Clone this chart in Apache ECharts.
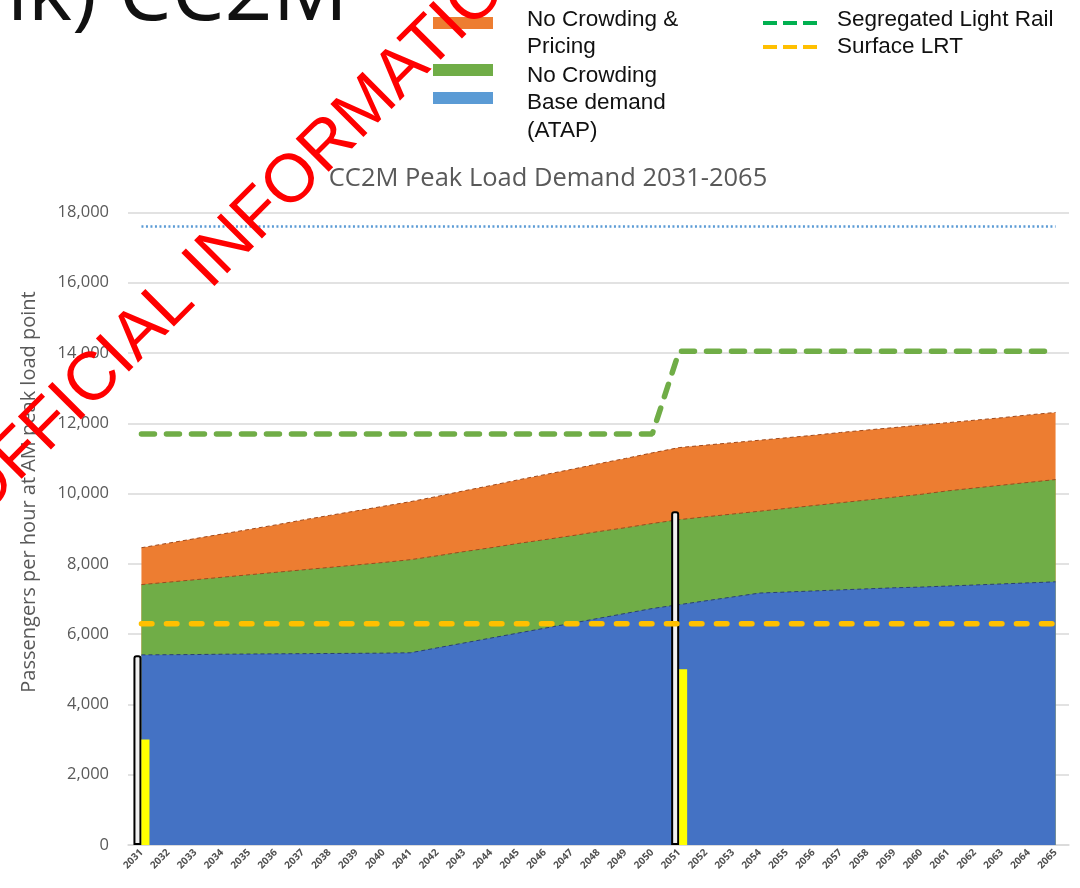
<!DOCTYPE html>
<html><head><meta charset="utf-8">
<script src="https://cdn.jsdelivr.net/npm/echarts@6/dist/echarts.min.js"></script>
<style>html,body{margin:0;padding:0;background:#fff}#c{width:1080px;height:888px}</style>
</head><body><div id="c"></div>
<script>
const years = ['2031','2032','2033','2034','2035','2036','2037','2038','2039','2040','2041','2042','2043','2044','2045','2046','2047','2048','2049','2050','2051','2052','2053','2054','2055','2056','2057','2058','2059','2060','2061','2062','2063','2064','2065'];
const yTicks = [0,2000,4000,6000,8000,10000,12000,14000,16000,18000];
const baseDemand = [5410,5415,5420,5430,5435,5440,5445,5450,5455,5460,5470,5610,5750,5890,6030,6170,6310,6450,6590,6730,6840,6950,7060,7170,7200,7230,7260,7290,7320,7340,7370,7400,7430,7460,7490];
const noCrowdingTotal = [7410,7480,7550,7620,7690,7760,7830,7900,7970,8040,8120,8230,8350,8460,8580,8690,8800,8920,9030,9150,9260,9340,9420,9500,9580,9660,9740,9820,9900,9980,10080,10160,10240,10320,10400];
const pricingTotal = [8460,8590,8720,8850,8980,9110,9250,9380,9510,9640,9770,9920,10080,10230,10390,10540,10690,10850,11000,11160,11310,11380,11450,11520,11590,11660,11740,11810,11880,11950,12020,12090,12160,12240,12310];
const segregatedLR = [11700,11700,11700,11700,11700,11700,11700,11700,11700,11700,11700,11700,11700,11700,11700,11700,11700,11700,11700,11700,14050,14050,14050,14050,14050,14050,14050,14050,14050,14050,14050,14050,14050,14050,14050];
const surfaceLRT = [6300,6300,6300,6300,6300,6300,6300,6300,6300,6300,6300,6300,6300,6300,6300,6300,6300,6300,6300,6300,6300,6300,6300,6300,6300,6300,6300,6300,6300,6300,6300,6300,6300,6300,6300];
const capacityLine = [17600,17600,17600,17600,17600,17600,17600,17600,17600,17600,17600,17600,17600,17600,17600,17600,17600,17600,17600,17600,17600,17600,17600,17600,17600,17600,17600,17600,17600,17600,17600,17600,17600,17600,17600];
const outlineBars = [5400,null,null,null,null,null,null,null,null,null,null,null,null,null,null,null,null,null,null,null,9500,null,null,null,null,null,null,null,null,null,null,null,null,null,null];
const yellowBars = [3000,null,null,null,null,null,null,null,null,null,null,null,null,null,null,null,null,null,null,null,5000,null,null,null,null,null,null,null,null,null,null,null,null,null,null];

const chart = echarts.init(document.getElementById('c'), null, {renderer:'canvas'});
const fmt = v => String(v).replace(/\B(?=(\d{3})+(?!\d))/g, ',');
function area(name, data, color, edge, z){
  return {name, type:'line', data, symbol:'none', z, silent:true,
    lineStyle:{color:edge, width:1, type:[4,3]},
    areaStyle:{color, opacity:1, origin:'start'}};
}
function dashLine(name, data, color, width, dash, cap, z){
  return {name, type:'line', data, symbol:'none', z, silent:true,
    lineStyle:{color, width, type:dash, cap}};
}
const legendFont = '22.5px "Liberation Sans", Arial, sans-serif';
chart.setOption({
  animation:false,
  backgroundColor:'#ffffff',
  grid:{left:128, right:11, top:212.5, bottom:43, containLabel:false},
  xAxis:{type:'category', data:years, boundaryGap:true,
    axisLine:{lineStyle:{color:'#D9D9D9', width:1.5}}, axisTick:{show:false},
    axisLabel:{rotate:45, interval:0, fontSize:10, fontWeight:'bold', color:'#505050', margin:6, fontFamily:'Open Sans'}},
  yAxis:{type:'value', min:yTicks[0], max:yTicks[yTicks.length-1], interval:2000,
    axisLine:{show:false}, axisTick:{show:false},
    splitLine:{lineStyle:{color:'#D9D9D9', width:1.5}},
    axisLabel:{fontSize:16.5, color:'#595959', margin:19, fontFamily:'Open Sans', formatter:fmt}},
  series:[
    area('No Crowding & Pricing', pricingTotal, '#ED7D31', '#A0481A', 2),
    area('No Crowding', noCrowdingTotal, '#70AD47', '#9A4A20', 2),
    area('Base demand (ATAP)', baseDemand, '#4472C4', '#2A3F73', 2),
    {name:'Capacity A', type:'bar', data:outlineBars, barWidth:8, barGap:'0%', z:3, silent:true,
      itemStyle:{color:'#F0F0F0', borderColor:'#000', borderWidth:2, borderRadius:[2,2,0,0]}},
    {name:'Capacity B', type:'bar', data:yellowBars, barWidth:8, barGap:'0%', z:3, silent:true,
      itemStyle:{color:'#FFFF00'}},
    dashLine('Capacity line', capacityLine, '#5B9BD5', 2.5, [2,2.5], 'butt', 4),
    dashLine('Segregated Light Rail', segregatedLR, '#70AD47', 5.5, [13,12], 'round', 4),
    dashLine('Surface LRT', surfaceLRT, '#FFC000', 5.5, [10.5,14.5], 'round', 4)
  ],
  graphic:[
    {type:'text', x:348, y:38, z:10, style:{text:'nk) CC2M', font:'84px "Open Sans", sans-serif', fill:'#111', textAlign:'right', textVerticalAlign:'bottom'}},
    {type:'text', x:548, y:179, z:10, style:{text:'CC2M Peak Load Demand 2031-2065', font:'25.5px "Open Sans", sans-serif', fill:'#595959', textAlign:'center', textVerticalAlign:'middle'}},
    {type:'text', x:29, y:492, rotation:Math.PI/2, z:10, style:{text:'Passengers per hour at AM peak load point', font:'20px "Open Sans", sans-serif', fill:'#595959', textAlign:'center', textVerticalAlign:'middle'}},
    {type:'rect', shape:{x:433, y:17, width:60, height:12}, style:{fill:'#ED7D31'}, z:10},
    {type:'rect', shape:{x:433, y:64, width:60, height:12}, style:{fill:'#70AD47'}, z:10},
    {type:'rect', shape:{x:433, y:92, width:60, height:12}, style:{fill:'#5B9BD5'}, z:10},
    {type:'text', x:527, y:20, z:10, style:{text:'No Crowding &', font:legendFont, fill:'#111', textVerticalAlign:'middle'}},
    {type:'text', x:527, y:47, z:10, style:{text:'Pricing', font:legendFont, fill:'#111', textVerticalAlign:'middle'}},
    {type:'text', x:527, y:76, z:10, style:{text:'No Crowding', font:legendFont, fill:'#111', textVerticalAlign:'middle'}},
    {type:'text', x:527, y:103, z:10, style:{text:'Base demand', font:legendFont, fill:'#111', textVerticalAlign:'middle'}},
    {type:'text', x:527, y:131, z:10, style:{text:'(ATAP)', font:legendFont, fill:'#111', textVerticalAlign:'middle'}},
    {type:'line', shape:{x1:763, y1:23, x2:820, y2:23}, style:{stroke:'#00B050', lineWidth:4, lineDash:[14,6]}, z:10},
    {type:'line', shape:{x1:763, y1:47, x2:820, y2:47}, style:{stroke:'#FFC000', lineWidth:4, lineDash:[14,6]}, z:10},
    {type:'text', x:837, y:20, z:10, style:{text:'Segregated Light Rail', font:legendFont, fill:'#111', textVerticalAlign:'middle'}},
    {type:'text', x:837, y:47, z:10, style:{text:'Surface LRT', font:legendFont, fill:'#111', textVerticalAlign:'middle'}},
    {type:'text', x:-33, y:507, rotation:Math.PI/4, z:100, style:{text:'OFFICIAL INFORMATION', font:'68px "Liberation Sans", Arial, sans-serif', fill:'#FF0000', textAlign:'left', textVerticalAlign:'middle'}}
  ]
});
</script></body></html>
